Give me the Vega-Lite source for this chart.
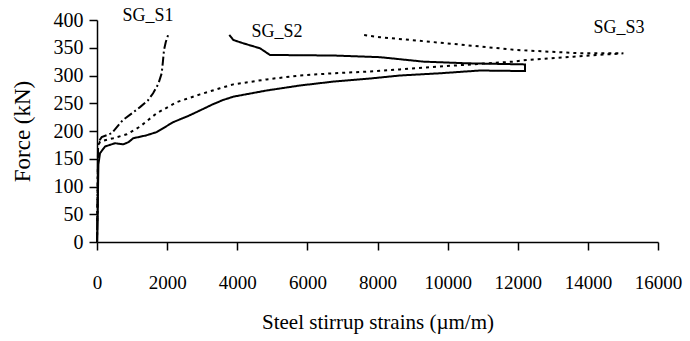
{
  "$schema": "https://vega.github.io/schema/vega-lite/v6.json",
  "width": 561,
  "height": 222,
  "autosize": "none",
  "padding": {"left": 97, "top": 20, "right": 32, "bottom": 99},
  "background": "white",
  "config": {
    "view": {"stroke": null},
    "font": "Liberation Serif",
    "axis": {
      "grid": false,
      "domainColor": "black",
      "domainWidth": 1.5,
      "tickColor": "black",
      "tickWidth": 1.5,
      "tickSize": 8,
      "labelFont": "Liberation Serif",
      "labelFontSize": 19,
      "labelColor": "black",
      "labelOverlap": false,
      "labelFlush": false,
      "titleFont": "Liberation Serif",
      "titleFontWeight": "normal",
      "titleColor": "black"
    }
  },
  "datasets": {
    "curves": [
      {"series": "SG_S1", "order": 1, "strain": 0, "force": 0},
      {"series": "SG_S1", "order": 2, "strain": 20, "force": 100},
      {"series": "SG_S1", "order": 3, "strain": 30, "force": 172},
      {"series": "SG_S1", "order": 4, "strain": 60, "force": 182},
      {"series": "SG_S1", "order": 5, "strain": 134, "force": 189},
      {"series": "SG_S1", "order": 6, "strain": 420, "force": 196},
      {"series": "SG_S1", "order": 7, "strain": 742, "force": 220},
      {"series": "SG_S1", "order": 8, "strain": 1000, "force": 232},
      {"series": "SG_S1", "order": 9, "strain": 1227, "force": 243},
      {"series": "SG_S1", "order": 10, "strain": 1450, "force": 255},
      {"series": "SG_S1", "order": 11, "strain": 1600, "force": 268},
      {"series": "SG_S1", "order": 12, "strain": 1750, "force": 285},
      {"series": "SG_S1", "order": 13, "strain": 1845, "force": 304},
      {"series": "SG_S1", "order": 14, "strain": 1880, "force": 325},
      {"series": "SG_S1", "order": 15, "strain": 1911, "force": 346},
      {"series": "SG_S1", "order": 16, "strain": 1960, "force": 360},
      {"series": "SG_S1", "order": 17, "strain": 2034, "force": 374},

      {"series": "SG_S2", "order": 1, "strain": 0, "force": 0},
      {"series": "SG_S2", "order": 2, "strain": 20, "force": 50},
      {"series": "SG_S2", "order": 3, "strain": 30, "force": 100},
      {"series": "SG_S2", "order": 4, "strain": 40, "force": 140},
      {"series": "SG_S2", "order": 5, "strain": 86, "force": 160},
      {"series": "SG_S2", "order": 6, "strain": 228, "force": 172},
      {"series": "SG_S2", "order": 7, "strain": 513, "force": 178},
      {"series": "SG_S2", "order": 8, "strain": 750, "force": 176},
      {"series": "SG_S2", "order": 9, "strain": 900, "force": 180},
      {"series": "SG_S2", "order": 10, "strain": 1035, "force": 187},
      {"series": "SG_S2", "order": 11, "strain": 1400, "force": 192},
      {"series": "SG_S2", "order": 12, "strain": 1700, "force": 198},
      {"series": "SG_S2", "order": 13, "strain": 2176, "force": 216},
      {"series": "SG_S2", "order": 14, "strain": 2600, "force": 227},
      {"series": "SG_S2", "order": 15, "strain": 2937, "force": 237},
      {"series": "SG_S2", "order": 16, "strain": 3300, "force": 248},
      {"series": "SG_S2", "order": 17, "strain": 3600, "force": 256},
      {"series": "SG_S2", "order": 18, "strain": 3900, "force": 262},
      {"series": "SG_S2", "order": 19, "strain": 4840, "force": 273},
      {"series": "SG_S2", "order": 20, "strain": 5790, "force": 282},
      {"series": "SG_S2", "order": 21, "strain": 6740, "force": 289},
      {"series": "SG_S2", "order": 22, "strain": 7692, "force": 294},
      {"series": "SG_S2", "order": 23, "strain": 8642, "force": 300},
      {"series": "SG_S2", "order": 24, "strain": 9783, "force": 304},
      {"series": "SG_S2", "order": 25, "strain": 10924, "force": 309},
      {"series": "SG_S2", "order": 26, "strain": 12207, "force": 308},
      {"series": "SG_S2", "order": 27, "strain": 12207, "force": 320},
      {"series": "SG_S2", "order": 28, "strain": 10543, "force": 322},
      {"series": "SG_S2", "order": 29, "strain": 9307, "force": 325},
      {"series": "SG_S2", "order": 30, "strain": 8072, "force": 333},
      {"series": "SG_S2", "order": 31, "strain": 6740, "force": 336},
      {"series": "SG_S2", "order": 32, "strain": 4934, "force": 337},
      {"series": "SG_S2", "order": 33, "strain": 4650, "force": 349},
      {"series": "SG_S2", "order": 34, "strain": 4173, "force": 358},
      {"series": "SG_S2", "order": 35, "strain": 3888, "force": 364},
      {"series": "SG_S2", "order": 36, "strain": 3774, "force": 373},

      {"series": "SG_S3", "order": 1, "strain": 0, "force": 0},
      {"series": "SG_S3", "order": 2, "strain": 20, "force": 100},
      {"series": "SG_S3", "order": 3, "strain": 30, "force": 172},
      {"series": "SG_S3", "order": 4, "strain": 86, "force": 181},
      {"series": "SG_S3", "order": 5, "strain": 465, "force": 187},
      {"series": "SG_S3", "order": 6, "strain": 847, "force": 194},
      {"series": "SG_S3", "order": 7, "strain": 1226, "force": 208},
      {"series": "SG_S3", "order": 8, "strain": 1703, "force": 232},
      {"series": "SG_S3", "order": 9, "strain": 2273, "force": 252},
      {"series": "SG_S3", "order": 10, "strain": 2937, "force": 266},
      {"series": "SG_S3", "order": 11, "strain": 3508, "force": 277},
      {"series": "SG_S3", "order": 12, "strain": 3888, "force": 284},
      {"series": "SG_S3", "order": 13, "strain": 4840, "force": 293},
      {"series": "SG_S3", "order": 14, "strain": 5790, "force": 300},
      {"series": "SG_S3", "order": 15, "strain": 6740, "force": 304},
      {"series": "SG_S3", "order": 16, "strain": 7692, "force": 307},
      {"series": "SG_S3", "order": 17, "strain": 8642, "force": 311},
      {"series": "SG_S3", "order": 18, "strain": 9973, "force": 317},
      {"series": "SG_S3", "order": 19, "strain": 11874, "force": 325},
      {"series": "SG_S3", "order": 20, "strain": 12256, "force": 328},
      {"series": "SG_S3", "order": 21, "strain": 13587, "force": 334},
      {"series": "SG_S3", "order": 22, "strain": 15013, "force": 340},
      {"series": "SG_S3", "order": 23, "strain": 13776, "force": 340},
      {"series": "SG_S3", "order": 24, "strain": 11970, "force": 346},
      {"series": "SG_S3", "order": 25, "strain": 9973, "force": 358},
      {"series": "SG_S3", "order": 26, "strain": 8072, "force": 369},
      {"series": "SG_S3", "order": 27, "strain": 7597, "force": 373}
    ],
    "labels": [
      {"label": "SG_S1", "strain": 1455, "force": 407},
      {"label": "SG_S2", "strain": 5134, "force": 378},
      {"label": "SG_S3", "strain": 14890, "force": 386}
    ]
  },
  "encoding": {
    "x": {
      "field": "strain", "type": "quantitative",
      "scale": {"domain": [0, 16000], "nice": false},
      "axis": {"values": [0, 2000, 4000, 6000, 8000, 10000, 12000, 14000, 16000], "format": "d", "labelOverlap": false, "labelPadding": 23, "title": "Steel stirrup strains (µm/m)", "titleFontSize": 21, "titlePadding": 19}
    },
    "y": {
      "field": "force", "type": "quantitative",
      "scale": {"domain": [0, 400], "nice": false},
      "axis": {"values": [0, 50, 100, 150, 200, 250, 300, 350, 400], "format": "d", "labelOverlap": false, "labelFontSize": 20, "labelPadding": 6, "tickCount": 9, "title": "Force (kN)", "titleFontSize": 23, "titlePadding": 19}
    }
  },
  "layer": [
    {
      "data": {"name": "curves"},
      "mark": {"type": "line", "strokeWidth": 2, "color": "black"},
      "encoding": {
        "detail": {"field": "series"},
        "order": {"field": "order", "type": "quantitative"},
        "strokeDash": {
          "field": "series", "type": "nominal",
          "scale": {"domain": ["SG_S1", "SG_S2", "SG_S3"], "range": [[9, 3, 2, 3], [1, 0], [3, 4]]},
          "legend": null
        }
      }
    },
    {
      "data": {"name": "labels"},
      "mark": {"type": "text", "fontSize": 18, "font": "Liberation Serif", "color": "black", "baseline": "middle", "align": "center"},
      "encoding": {
        "text": {"field": "label"}
      }
    }
  ]
}
